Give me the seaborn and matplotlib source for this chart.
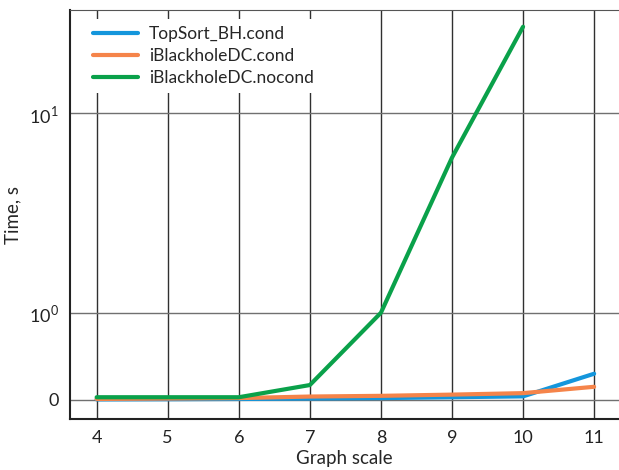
import numpy as np
import pandas as pd
import seaborn as sns
import matplotlib as mpl
import matplotlib.pyplot as plt

scale = [4, 5, 6, 7, 8, 9, 10, 11]
topsort_cond = [0.005, 0.007, 0.01, 0.015, 0.02, 0.03, 0.04, 0.30]
blackhole_cond = [0.01, 0.015, 0.02, 0.038, 0.046, 0.06, 0.077, 0.15]
blackhole_nocond = [0.03, 0.03, 0.03, 0.17, 1.0, 6.0, 27.2]

names = ['TopSort_BH.cond', 'iBlackholeDC.cond', 'iBlackholeDC.nocond']
colors = ['#1496dc', '#f5844a', '#0aa14a']

def buildFrame():
    rows = []
    for name, vals in zip(names, [topsort_cond, blackhole_cond, blackhole_nocond]):
        for x, y in zip(scale, vals):
            rows.append({'scale': x, 'time': y, 'algo': name})
    return pd.DataFrame(rows)

if __name__ == "__main__":
    sns.set_style('white')
    plt.rcParams['font.family'] = ['Lato', 'DejaVu Sans']
    mpl.rcParams['mathtext.fontset'] = 'custom'
    mpl.rcParams['mathtext.rm'] = 'Lato'

    d = buildFrame()

    fig = plt.figure(figsize=(6.19, 4.70), dpi=100)
    ax = fig.add_axes([70/619, 1 - 419/470, 1 - 70/619, (419 - 10)/470])

    sns.lineplot(data=d, x='scale', y='time', hue='algo', hue_order=names,
                 palette=colors, lw=3, ax=ax, legend=True)

    ax.set_yscale('symlog', linthresh=1, linscale=0.393)
    ax.set_ylim(-0.22, 33)
    ax.set_xlim(3.625, 11.35)
    ax.set_yticks([0, 1, 10])
    ax.set_yticklabels(['0', r'$10^0$', r'$10^1$'])
    ax.yaxis.set_minor_locator(mpl.ticker.NullLocator())
    ax.set_xticks(scale)

    ax.grid(True, axis='x', color='#303030', lw=1)
    ax.grid(True, axis='y', color='#707070', lw=1)
    ax.set_axisbelow(True)
    ax.tick_params(length=0, labelsize=13, colors='#222222', pad=8)

    for s in ['left', 'bottom']:
        ax.spines[s].set_color('#222222')
        ax.spines[s].set_linewidth(1.5)
    ax.spines['top'].set_color('#555555')
    ax.spines['right'].set_visible(False)

    ax.set_xlabel('Graph scale', fontsize=13.5, labelpad=3)
    ax.set_ylabel('Time, s', fontsize=13.5)
    ax.yaxis.set_label_coords(-0.089, 0.5)

    leg = ax.legend(loc='upper left', frameon=True, fontsize=12.5, handlelength=2.6,
                    handletextpad=0.6, borderaxespad=0.3, labelspacing=0.35,
                    bbox_to_anchor=(0.02, 0.99))
    leg.get_frame().set_edgecolor('none')
    leg.get_frame().set_facecolor('white')
    leg.get_frame().set_alpha(1)

    fig.savefig('out.png', dpi=100)
